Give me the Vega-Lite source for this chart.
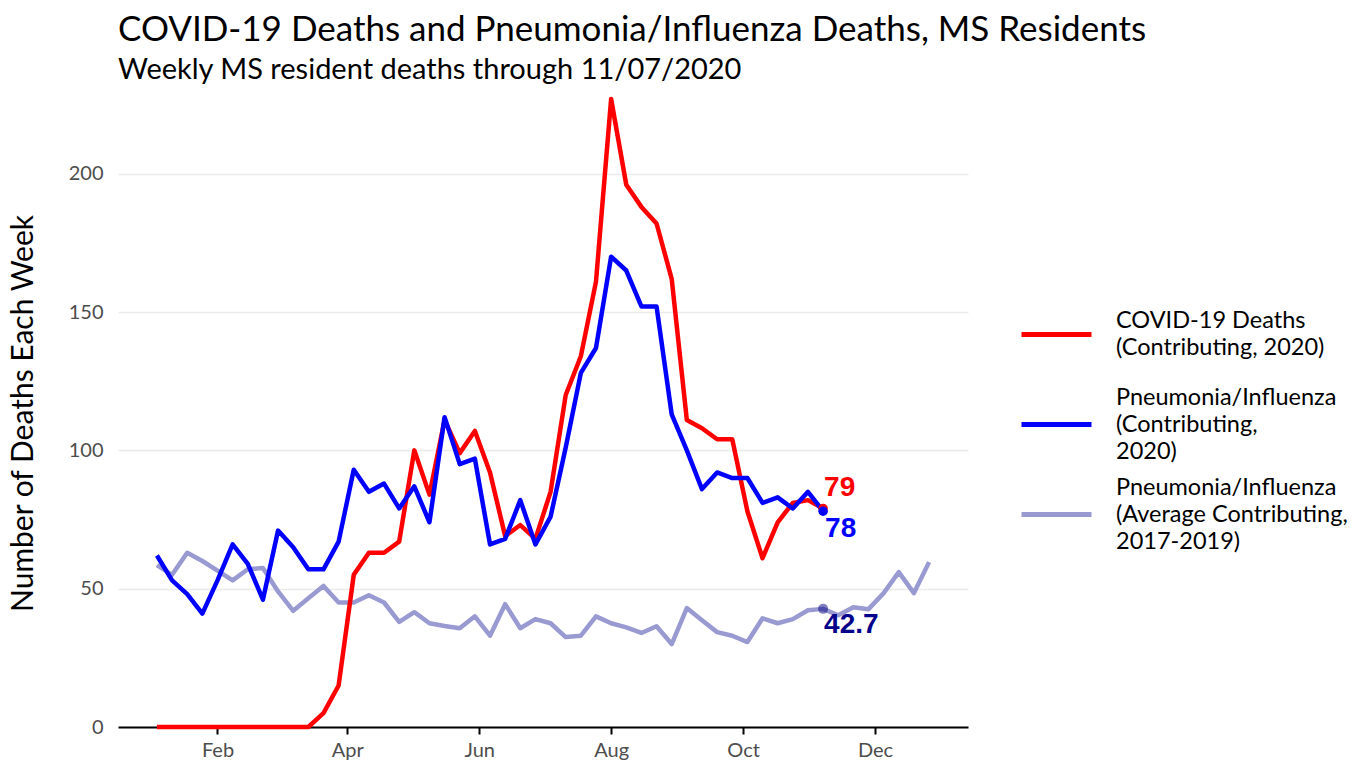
{
  "$schema": "https://vega.github.io/schema/vega-lite/v6.json",
  "width": 850,
  "height": 628,
  "autosize": "none",
  "padding": {"left": 118, "top": 99, "right": 398, "bottom": 38},
  "background": "white",
  "title": {
    "text": "COVID-19 Deaths and Pneumonia/Influenza Deaths, MS Residents",
    "subtitle": "Weekly MS resident deaths through 11/07/2020",
    "anchor": "start",
    "frame": "group",
    "font": "Lato",
    "fontSize": 35,
    "fontWeight": "normal",
    "color": "black",
    "subtitleFont": "Lato",
    "subtitleFontSize": 29,
    "subtitleColor": "black",
    "subtitlePadding": 8,
    "offset": 12
  },
  "config": {
    "view": {"stroke": null},
    "font": "Lato",
    "axisX": {
      "domain": true, "domainColor": "black", "domainWidth": 2,
      "ticks": true, "tickColor": "black", "tickWidth": 2, "tickSize": 7,
      "labelColor": "#4d4d4d", "labelFontSize": 20, "labelPadding": 6,
      "labelFont": "Lato", "grid": false
    },
    "axisY": {
      "domain": false, "ticks": false,
      "labelColor": "#4d4d4d", "labelFontSize": 20, "labelPadding": 15, "labelFont": "Lato",
      "grid": true, "gridColor": "#ebebeb", "gridWidth": 1.5,
      "titleFont": "Lato", "titleFontSize": 30, "titleFontWeight": "normal", "titleColor": "black", "titlePadding": 30
    }
  },
  "datasets": {
    "weekly": [
      {"date": "2020-01-04", "covid": 0, "pi": 62, "avg": 58.5},
      {"date": "2020-01-11", "covid": 0, "pi": 53, "avg": 55},
      {"date": "2020-01-18", "covid": 0, "pi": 48, "avg": 63},
      {"date": "2020-01-25", "covid": 0, "pi": 41, "avg": 60},
      {"date": "2020-02-01", "covid": 0, "pi": 53, "avg": 56.5},
      {"date": "2020-02-08", "covid": 0, "pi": 66, "avg": 53},
      {"date": "2020-02-15", "covid": 0, "pi": 59, "avg": 57},
      {"date": "2020-02-22", "covid": 0, "pi": 46, "avg": 57.5},
      {"date": "2020-02-29", "covid": 0, "pi": 71, "avg": 49},
      {"date": "2020-03-07", "covid": 0, "pi": 65, "avg": 42},
      {"date": "2020-03-14", "covid": 0, "pi": 57, "avg": 46.5},
      {"date": "2020-03-21", "covid": 5, "pi": 57, "avg": 51},
      {"date": "2020-03-28", "covid": 15, "pi": 67, "avg": 45},
      {"date": "2020-04-04", "covid": 55, "pi": 93, "avg": 45},
      {"date": "2020-04-11", "covid": 63, "pi": 85, "avg": 47.6},
      {"date": "2020-04-18", "covid": 63, "pi": 88, "avg": 45},
      {"date": "2020-04-25", "covid": 67, "pi": 79, "avg": 38},
      {"date": "2020-05-02", "covid": 100, "pi": 87, "avg": 41.5},
      {"date": "2020-05-09", "covid": 84, "pi": 74, "avg": 37.5},
      {"date": "2020-05-16", "covid": 111, "pi": 112, "avg": 36.5},
      {"date": "2020-05-23", "covid": 99, "pi": 95, "avg": 35.7},
      {"date": "2020-05-30", "covid": 107, "pi": 97, "avg": 40},
      {"date": "2020-06-06", "covid": 92, "pi": 66, "avg": 33},
      {"date": "2020-06-13", "covid": 69, "pi": 68, "avg": 44.4},
      {"date": "2020-06-20", "covid": 73, "pi": 82, "avg": 35.7},
      {"date": "2020-06-27", "covid": 68, "pi": 66, "avg": 39},
      {"date": "2020-07-04", "covid": 85, "pi": 76, "avg": 37.5},
      {"date": "2020-07-11", "covid": 120, "pi": 101, "avg": 32.5},
      {"date": "2020-07-18", "covid": 134, "pi": 128, "avg": 33},
      {"date": "2020-07-25", "covid": 161, "pi": 137, "avg": 40},
      {"date": "2020-08-01", "covid": 227, "pi": 170, "avg": 37.5},
      {"date": "2020-08-08", "covid": 196, "pi": 165, "avg": 36},
      {"date": "2020-08-15", "covid": 188, "pi": 152, "avg": 34},
      {"date": "2020-08-22", "covid": 182, "pi": 152, "avg": 36.4},
      {"date": "2020-08-29", "covid": 162, "pi": 113, "avg": 30},
      {"date": "2020-09-05", "covid": 111, "pi": 100, "avg": 43},
      {"date": "2020-09-12", "covid": 108, "pi": 86, "avg": 38.6},
      {"date": "2020-09-19", "covid": 104, "pi": 92, "avg": 34.3},
      {"date": "2020-09-26", "covid": 104, "pi": 90, "avg": 33},
      {"date": "2020-10-03", "covid": 78, "pi": 90, "avg": 30.7},
      {"date": "2020-10-10", "covid": 61, "pi": 81, "avg": 39.3},
      {"date": "2020-10-17", "covid": 74, "pi": 83, "avg": 37.5},
      {"date": "2020-10-24", "covid": 81, "pi": 79, "avg": 39},
      {"date": "2020-10-31", "covid": 82, "pi": 85, "avg": 42.2},
      {"date": "2020-11-07", "covid": 79, "pi": 78, "avg": 42.7},
      {"date": "2020-11-14", "avg": 40.4},
      {"date": "2020-11-21", "avg": 43.3},
      {"date": "2020-11-28", "avg": 42.6},
      {"date": "2020-12-05", "avg": 48.4},
      {"date": "2020-12-12", "avg": 56},
      {"date": "2020-12-19", "avg": 48.4},
      {"date": "2020-12-26", "avg": 59.6}
    ],
    "last": [
      {"date": "2020-11-07", "key": "covid", "value": 79, "label": "79"},
      {"date": "2020-11-07", "key": "pi", "value": 78, "label": "78"},
      {"date": "2020-11-07", "key": "avg", "value": 42.7, "label": "42.7"}
    ]
  },
  "encoding": {
    "x": {
      "field": "date", "type": "temporal",
      "scale": {"type": "utc", "domain": [{"year": 2019, "month": 12, "date": 17, "utc": true}, {"year": 2021, "month": 1, "date": 13, "utc": true}]},
      "axis": {
        "title": null,
        "labelExpr": "utcFormat(datum.value, '%b')",
        "values": [
          {"year": 2020, "month": 2, "date": 1, "utc": true},
          {"year": 2020, "month": 4, "date": 1, "utc": true},
          {"year": 2020, "month": 6, "date": 1, "utc": true},
          {"year": 2020, "month": 8, "date": 1, "utc": true},
          {"year": 2020, "month": 10, "date": 1, "utc": true},
          {"year": 2020, "month": 12, "date": 1, "utc": true}
        ]
      }
    },
    "y": {
      "field": "value", "type": "quantitative",
      "scale": {"domain": [0, 227], "nice": false},
      "axis": {"values": [0, 50, 100, 150, 200], "title": "Number of Deaths Each Week"}
    }
  },
  "layer": [
    {
      "data": {"name": "weekly"},
      "transform": [{"fold": ["covid", "pi", "avg"]}, {"filter": "isValid(datum.value)"}, {"filter": "datum.key === 'avg'"}],
      "mark": {"type": "line", "strokeWidth": 4.5, "strokeJoin": "round"},
      "encoding": {
        "color": {
          "field": "key", "type": "nominal",
          "scale": {"domain": ["covid", "pi", "avg"], "range": ["#ff0000", "#0000ff", "#9a9ad3"]},
          "legend": {
            "orient": "none", "legendX": 901, "legendY": 198, "title": null, "padding": 0,
            "symbolType": "M-1,-1.2M-1,0H1M1,1.2", "symbolSize": 4900, "symbolStrokeWidth": 5,
            "labelFont": "Lato", "labelFontSize": 23.5, "labelColor": "black", "labelOffset": 22, "labelLimit": 400,
            "rowPadding": -18,
            "labelExpr": "datum.value === 'covid' ? ['COVID-19 Deaths', '(Contributing, 2020)'] : datum.value === 'pi' ? ['Pneumonia/Influenza', '(Contributing,', '2020)'] : ['Pneumonia/Influenza', '(Average Contributing,', '2017-2019)']",
            "encode": {"labels": {"update": {"lineHeight": {"value": 27}, "dy": {"signal": "datum.value === 'covid' ? -13.5 : -27"}}}}
          }
        }
      }
    },
    {
      "data": {"name": "weekly"},
      "transform": [{"fold": ["covid", "pi", "avg"]}, {"filter": "isValid(datum.value)"}, {"filter": "datum.key === 'covid'"}],
      "mark": {"type": "line", "strokeWidth": 4.5, "strokeJoin": "round"},
      "encoding": {"color": {"field": "key", "type": "nominal"}}
    },
    {
      "data": {"name": "weekly"},
      "transform": [{"fold": ["covid", "pi", "avg"]}, {"filter": "isValid(datum.value)"}, {"filter": "datum.key === 'pi'"}],
      "mark": {"type": "line", "strokeWidth": 4.5, "strokeJoin": "round"},
      "encoding": {"color": {"field": "key", "type": "nominal"}}
    },
    {
      "data": {"name": "last"},
      "transform": [{"filter": "datum.key === 'avg'"}],
      "mark": {"type": "point", "filled": true, "size": 100, "color": "#000080", "opacity": 0.5}
    },
    {
      "data": {"name": "last"},
      "transform": [{"filter": "datum.key === 'covid'"}],
      "mark": {"type": "point", "filled": true, "size": 90, "color": "#ff0000", "opacity": 1}
    },
    {
      "data": {"name": "last"},
      "transform": [{"filter": "datum.key === 'pi'"}],
      "mark": {"type": "point", "filled": true, "size": 90, "color": "#0000ff", "opacity": 1}
    },
    {
      "data": {"name": "last"},
      "transform": [{"filter": "datum.key === 'covid'"}],
      "mark": {"type": "text", "font": "Liberation Sans", "fontWeight": "bold", "fontSize": 28, "color": "#ff0000", "align": "left", "baseline": "middle", "dx": 1, "dy": -20},
      "encoding": {"text": {"field": "label"}}
    },
    {
      "data": {"name": "last"},
      "transform": [{"filter": "datum.key === 'pi'"}],
      "mark": {"type": "text", "font": "Liberation Sans", "fontWeight": "bold", "fontSize": 28, "color": "#0000ff", "align": "left", "baseline": "middle", "dx": 2, "dy": 18},
      "encoding": {"text": {"field": "label"}}
    },
    {
      "data": {"name": "last"},
      "transform": [{"filter": "datum.key === 'avg'"}],
      "mark": {"type": "text", "font": "Liberation Sans", "fontWeight": "bold", "fontSize": 28, "color": "#00008b", "align": "left", "baseline": "middle", "dx": 1, "dy": 16},
      "encoding": {"text": {"field": "label"}}
    }
  ]
}
